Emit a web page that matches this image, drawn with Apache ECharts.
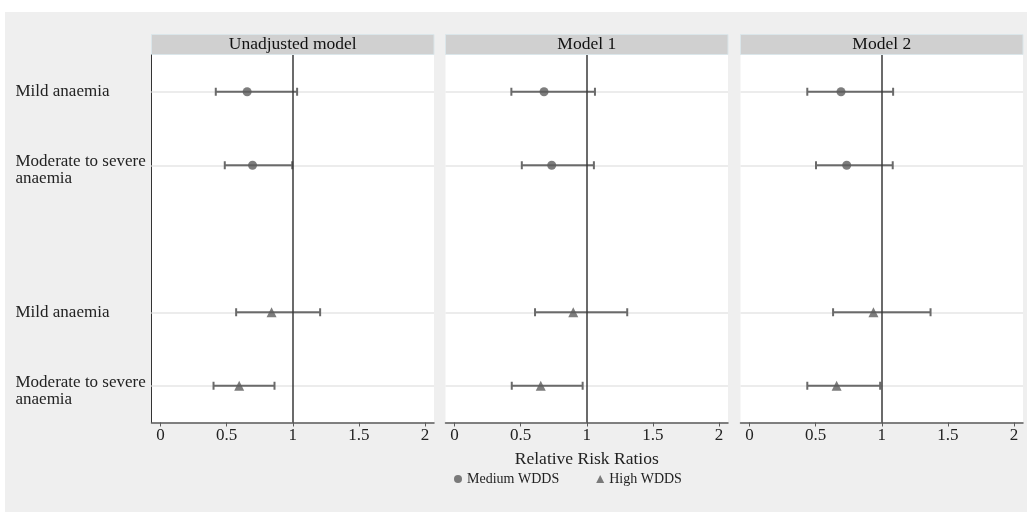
<!DOCTYPE html>
<html>
<head>
<meta charset="utf-8">
<script src="https://cdn.jsdelivr.net/npm/echarts@6/dist/echarts.min.js"></script>
<style>
  html, body { margin: 0; padding: 0; background: #fff; }
  #main { width: 1027px; height: 512px; }
</style>
</head>
<body>
<div id="main"></div>
<script>
// panels and rows
const panels = ['Unadjusted model', 'Model 1', 'Model 2'];
const rowPos = [1, 2, 4, 5];
const rowNames = ['Mild anaemia', 'Moderate to severe\nanaemia', 'Mild anaemia', 'Moderate to severe\nanaemia'];
const medRows = [1, 2];
const highRows = [4, 5];
const xTicks = [0, 0.5, 1, 1.5, 2];

// Medium WDDS: RR and CI per panel
const medRR = [[0.655, 0.696], [0.677, 0.735], [0.692, 0.735]];
const medLo = [[0.418, 0.486], [0.430, 0.509], [0.437, 0.503]];
const medHi = [[1.033, 0.996], [1.062, 1.054], [1.086, 1.083]];

// High WDDS
const highRR = [[0.840, 0.595], [0.898, 0.652], [0.937, 0.659]];
const highLo = [[0.572, 0.401], [0.609, 0.433], [0.632, 0.437]];
const highHi = [[1.207, 0.862], [1.306, 0.969], [1.369, 0.988]];

const chart = echarts.init(document.getElementById('main'));
const FONT = 'Liberation Serif';
const gridLefts = [151.5, 445.5, 740.5];
const gridW = 282.5, gridTop = 55, gridH = 367.5;

function whiskerItem(params, api) {
  const y = api.value(2);
  const a = api.coord([api.value(0), y]);
  const b = api.coord([api.value(1), y]);
  const st = { stroke: '#6a6a6a', lineWidth: 2 };
  return {
    type: 'group',
    children: [
      { type: 'line', shape: { x1: a[0], y1: a[1], x2: b[0], y2: b[1] }, style: st },
      { type: 'line', shape: { x1: a[0], y1: a[1] - 4, x2: a[0], y2: a[1] + 4 }, style: st },
      { type: 'line', shape: { x1: b[0], y1: b[1] - 4, x2: b[0], y2: b[1] + 4 }, style: st }
    ]
  };
}

const grid = [], xAxis = [], yAxis = [], series = [], graphic = [];

graphic.push({
  type: 'rect', z: -10, silent: true,
  shape: { x: 5, y: 12, width: 1030, height: 510 },
  style: { fill: '#efefef' }
});

panels.forEach((name, i) => {
  grid.push({
    left: gridLefts[i], top: gridTop, width: gridW, height: gridH,
    show: true, backgroundColor: '#fff', borderWidth: 0
  });
  graphic.push({
    type: 'group', silent: true,
    children: [
      {
        type: 'rect',
        shape: { x: gridLefts[i], y: 34.5, width: gridW, height: 20 },
        style: { fill: '#d0d0d0', stroke: '#dbe6ea', lineWidth: 1 }
      },
      {
        type: 'text',
        x: gridLefts[i] + gridW / 2, y: 44.5,
        style: {
          text: name, fill: '#111', font: '17.5px "' + FONT + '"',
          align: 'center', verticalAlign: 'middle'
        }
      }
    ]
  });
  xAxis.push({
    type: 'value', gridIndex: i, min: -0.068, max: 2.068,
    axisLine: { show: true, onZero: false, lineStyle: { color: '#5a5a5a', width: 1.5 } },
    axisTick: { show: true, customValues: xTicks, length: 4, lineStyle: { color: '#5a5a5a' } },
    axisLabel: {
      customValues: xTicks, color: '#222', fontFamily: FONT, fontSize: 17, margin: 5,
      formatter: v => String(v)
    },
    splitLine: { show: false },
    name: i === 1 ? 'Relative Risk Ratios' : '',
    nameLocation: 'middle', nameGap: 28,
    nameTextStyle: { color: '#222', fontFamily: FONT, fontSize: 17.5 }
  });
  yAxis.push({
    type: 'value', gridIndex: i, min: 0.5, max: 5.5, inverse: true,
    axisLine: { show: i === 0, onZero: false, lineStyle: { color: '#333', width: 1 } },
    axisTick: { show: false },
    splitLine: { show: false },
    axisLabel: {
      show: i === 0, customValues: rowPos, align: 'left', margin: 136,
      color: '#222', fontFamily: FONT, fontSize: 17,
      formatter: v => {
        const n = rowNames[rowPos.indexOf(v)] || '';
        const parts = n.split('\n');
        if (parts.length === 1) return n;
        return '{e| }\n{t|' + parts[0] + '}\n{t|' + parts[1] + '}';
      },
      rich: {
        e: { fontSize: 1, lineHeight: 10 },
        t: { fontFamily: FONT, fontSize: 17, color: '#222', lineHeight: 17 }
      }
    }
  });

  // row guide lines
  series.push({
    type: 'line', xAxisIndex: i, yAxisIndex: i, data: [], z: 1, silent: true,
    markLine: {
      silent: true, z: 1, symbol: ['none', 'none'], label: { show: false },
      lineStyle: { color: '#ececec', width: 2, type: 'solid' },
      data: rowPos.map(r => ({ yAxis: r }))
    }
  });
  // whiskers
  series.push({
    type: 'custom', xAxisIndex: i, yAxisIndex: i, z: 3, silent: true,
    renderItem: whiskerItem,
    encode: { x: [0, 1], y: 2 },
    data: medRows.map((r, k) => [medLo[i][k], medHi[i][k], r])
      .concat(highRows.map((r, k) => [highLo[i][k], highHi[i][k], r]))
  });
  // reference line at 1
  series.push({
    type: 'line', xAxisIndex: i, yAxisIndex: i, data: [], z: 4, silent: true,
    markLine: {
      silent: true, z: 4, symbol: ['none', 'none'], label: { show: false },
      lineStyle: { color: '#3a3a3a', width: 1.5, type: 'solid' },
      data: [{ xAxis: 1 }]
    }
  });
  series.push({
    name: 'Medium WDDS', type: 'scatter', xAxisIndex: i, yAxisIndex: i, z: 5,
    symbol: 'circle', symbolSize: 9, itemStyle: { color: '#5c5c5c' },
    data: medRows.map((r, k) => [medRR[i][k], r])
  });
  series.push({
    name: 'High WDDS', type: 'scatter', xAxisIndex: i, yAxisIndex: i, z: 5,
    symbol: 'triangle', symbolSize: 10, itemStyle: { color: '#5c5c5c' },
    data: highRows.map((r, k) => [highRR[i][k], r])
  });
});

const option = {
  backgroundColor: '#fff',
  animation: false,
  grid, xAxis, yAxis, series, graphic,
  legend: {
    data: ['Medium WDDS', 'High WDDS'],
    left: 449, top: 467,
    itemWidth: 8, itemHeight: 8, itemGap: 37,
    textStyle: { fontFamily: FONT, fontSize: 14, color: '#222' }
  }
};

option && chart.setOption(option);
</script>
</body>
</html>
